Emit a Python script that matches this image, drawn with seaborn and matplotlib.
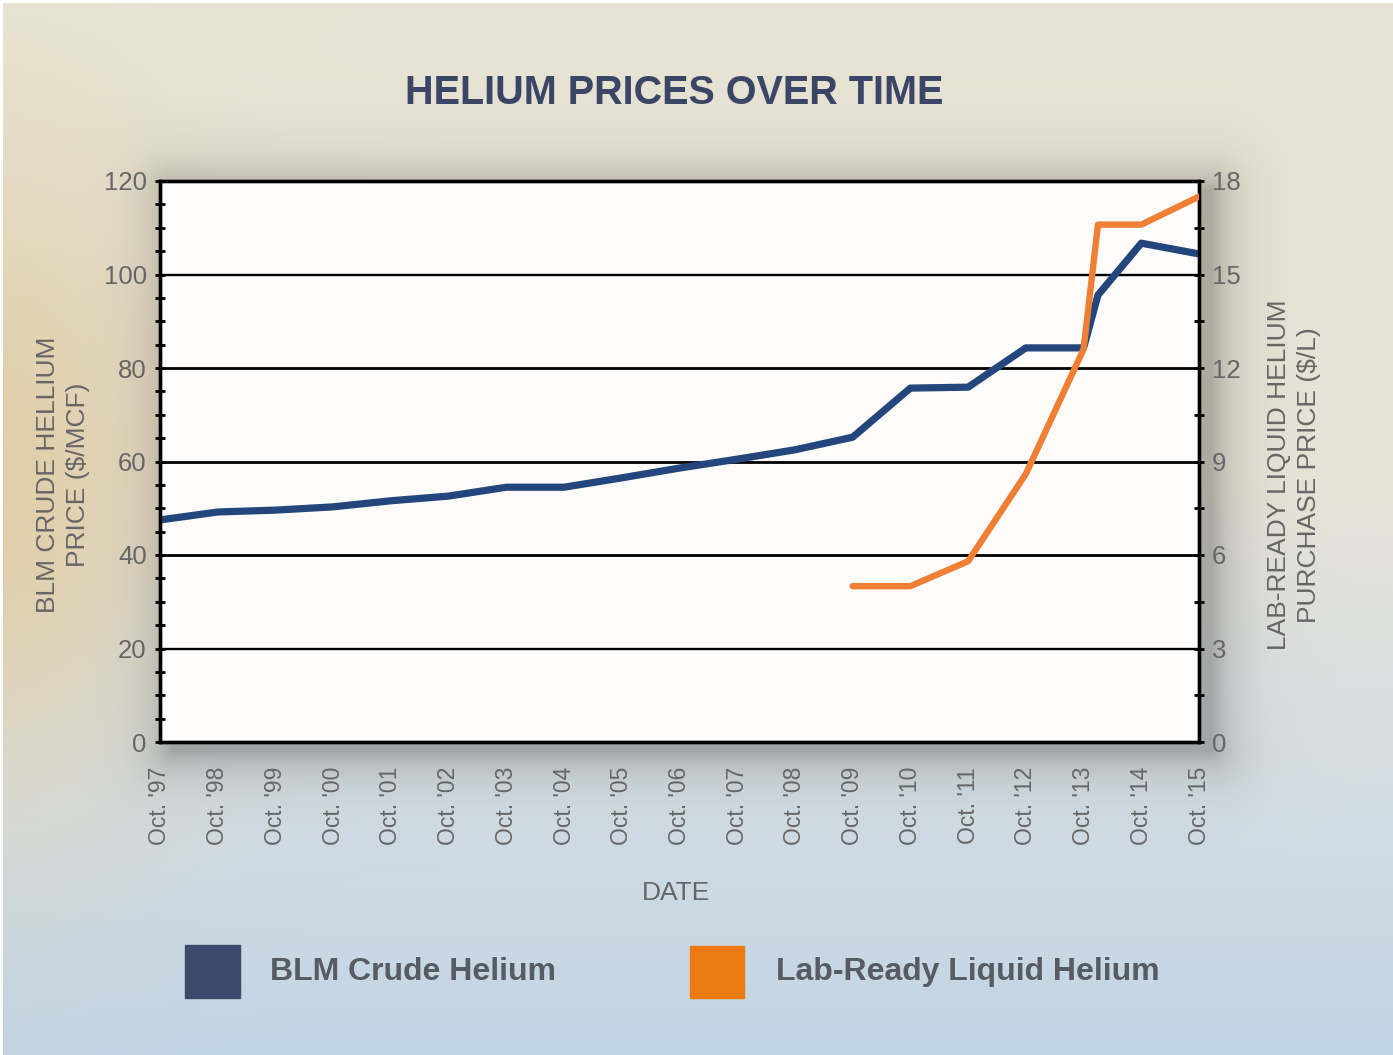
import numpy as np
import pandas as pd
import matplotlib
matplotlib.use("Agg")
import matplotlib.pyplot as plt
from matplotlib.ticker import MultipleLocator
from matplotlib.patches import Rectangle
import seaborn as sns

# ---------------- data ----------------
blm_x = [0, 1, 2, 3, 4, 5, 6, 7, 8, 9, 10, 11, 12, 13, 14, 15, 16, 16.25, 17, 18]
blm_price = [47.5, 49.2, 49.6, 50.3, 51.6, 52.6, 54.5, 54.5, 56.5, 58.6, 60.5, 62.5,
             65.2, 75.7, 75.9, 84.3, 84.3, 95.6, 106.7, 104.4]
lab_x = [12, 13, 14, 15, 16, 16.25, 17, 18]
lab_price = [5.0, 5.0, 5.8, 8.6, 12.6, 16.6, 16.6, 17.5]
tick_labels = ["Oct. '97", "Oct. '98", "Oct. '99", "Oct. '00", "Oct. '01", "Oct. '02",
               "Oct. '03", "Oct. '04", "Oct. '05", "Oct. '06", "Oct. '07", "Oct. '08",
               "Oct. '09", "Oct. '10", "Oct. '11", "Oct. '12", "Oct. '13", "Oct. '14",
               "Oct. '15"]
left_ticks = [0, 20, 40, 60, 80, 100, 120]
right_ticks = [0, 3, 6, 9, 12, 15, 18]

blm_df = pd.DataFrame({"x": blm_x, "price": blm_price})
lab_df = pd.DataFrame({"x": lab_x, "price": lab_price})

sns.set_theme(style="white")
plt.rcParams['font.family'] = ['Liberation Sans', 'DejaVu Sans']

W, H = 1393, 1055
fig = plt.figure(figsize=(W / 100, H / 100), dpi=100)

# ---------------- background gradient ----------------
yy, xx = np.mgrid[0:H, 0:W]
yf = yy / (H - 1)
xf = xx / (W - 1)
stops_y = [0.0, 0.45, 0.72, 1.0]
cols = np.array([[232, 228, 212], [231, 227, 215], [214, 222, 227], [193, 212, 228]], float)
img = np.zeros((H, W, 3))
for c in range(3):
    img[..., c] = np.interp(yf, stops_y, cols[:, c])
tan = np.array([224, 207, 170], float)
t = np.exp(-(xf / 0.12) ** 2) * np.exp(-((yf - 0.45) / 0.3) ** 2)
img = img * (1 - t[..., None]) + tan * t[..., None]
# soft drop shadow of the plot panel
L, R, T, B = 160, 1199, 181, 742
ox, oy = 12, 8
dx = np.maximum(0, np.maximum((L + ox) - xx, xx - (R + ox)))
dy = np.maximum(0, np.maximum((T + oy) - yy, yy - (B + oy)))
d = np.sqrt(dx ** 2 + dy ** 2)
shadow = 0.25 * np.exp(-d / 24.0)
img = img * (1 - shadow[..., None])
img[:3, :, :] = 255
img[:, :3, :] = 255
img = np.clip(img, 0, 255).astype(np.uint8)

bg = fig.add_axes([0, 0, 1, 1], zorder=-10)
bg.imshow(img, aspect="auto", extent=[0, 1, 0, 1], interpolation="bilinear")
bg.set_axis_off()

# ---------------- main axes ----------------
ax = fig.add_axes([L / W, 1 - B / H, (R - L) / W, (B - T) / H])
ax.set_facecolor("#fdfcfa")
ax2 = ax.twinx()

for y, lw in zip([20, 40, 60, 80, 100], [1.7, 2.0, 2.0, 2.0, 1.7]):
    ax.axhline(y, color="black", lw=lw, zorder=1)

sns.lineplot(data=blm_df, x="x", y="price", ax=ax, color="#24467c", lw=5.2,
             zorder=3, legend=False)
sns.lineplot(data=lab_df, x="x", y="price", ax=ax2, color="#ee7f35", lw=4.6,
             zorder=3, legend=False)
ax.set_zorder(0)
ax2.set_zorder(1)
ax2.patch.set_visible(False)

ax.set_xlim(0, 18)
ax.set_ylim(0, 120)
ax2.set_ylim(0, 18)

ax.set_xticks(range(len(tick_labels)))
ax.set_xticklabels(tick_labels, rotation=90, fontsize=16.5, color="#666666")
ax.set_yticks(left_ticks)
ax.set_yticklabels([str(v) for v in left_ticks], fontsize=18.5, color="#666666")
ax2.set_yticks(right_ticks)
ax2.set_yticklabels([str(v) for v in right_ticks], fontsize=18.5, color="#666666")
ax.yaxis.set_minor_locator(MultipleLocator(5))
ax2.yaxis.set_minor_locator(MultipleLocator(1.5))

ax.tick_params(axis="y", which="both", direction="inout", length=7, width=2,
               color="black", pad=6)
ax.tick_params(axis="x", which="major", direction="inout", length=8, width=2,
               color="black", pad=14)
ax2.tick_params(axis="y", which="both", direction="inout", length=7, width=2,
                color="black", pad=6)

for a in (ax, ax2):
    for s in a.spines.values():
        s.set_color("black")
        s.set_linewidth(2.4)

ax.set_xlabel("")
ax.set_ylabel("")
ax2.set_ylabel("")

# axis titles
fig.text(63 / W, 1 - 475 / H, "BLM CRUDE HELLIUM\nPRICE ($/MCF)", rotation=90,
         ha="center", va="center", fontsize=19, color="#666666", linespacing=1.3,
         multialignment="center")
fig.text(1294 / W, 1 - 475 / H, "LAB-READY LIQUID HELIUM\nPURCHASE PRICE ($/L)",
         rotation=90, ha="center", va="center", fontsize=19, color="#666666",
         linespacing=1.3, multialignment="center")
fig.text(676 / W, 1 - 893 / H, "DATE", ha="center", va="center", fontsize=19,
         color="#666666")

# title
fig.text(674 / W, 1 - 93 / H, "HELIUM PRICES OVER TIME", ha="center", va="center",
         fontsize=28.5, fontweight="bold", color="#3b4566")

# legend
fig.patches.append(Rectangle((185 / W, 1 - 998 / H), 55 / W, 53 / H,
                             transform=fig.transFigure, color="#3c4a6c"))
fig.patches.append(Rectangle((690 / W, 1 - 998 / H), 54 / W, 52 / H,
                             transform=fig.transFigure, color="#ec7a12"))
fig.text(270 / W, 1 - 972 / H, "BLM Crude Helium", ha="left", va="center",
         fontsize=23, fontweight="bold", color="#575c63")
fig.text(776 / W, 1 - 972 / H, "Lab-Ready Liquid Helium", ha="left", va="center",
         fontsize=23, fontweight="bold", color="#575c63")

fig.savefig("out.png", dpi=100)
